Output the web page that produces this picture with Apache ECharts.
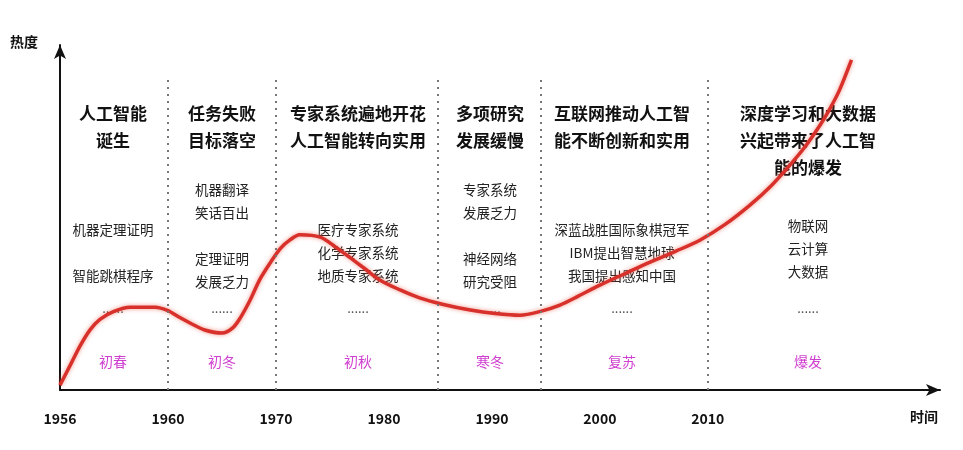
<!DOCTYPE html><html><head><meta charset="utf-8">
<script src="https://cdn.jsdelivr.net/npm/echarts@6/dist/echarts.min.js"></script>
<style>html,body{margin:0;background:#fff}#c{width:963px;height:450px}</style></head><body><div id="c"></div>
<script>
const yearLabels = ['1956','1960','1970','1980','1990','2000','2010'];
const curveX = [0,0.1,0.19,0.28,0.37,0.5,0.65,0.88,1.0,1.11,1.23,1.34,1.5,1.6,1.67,1.76,1.85,1.95,2.04,2.13,2.22,2.41,2.55,2.69,2.83,2.96,3.15,3.33,3.55,3.8,4.03,4.26,4.45,4.63,4.8,5.0,5.23,5.46,5.7,5.93,6.16,6.39,6.58,6.76,6.9,7.04,7.13,7.22,7.33];
const curveY = [1.4,7.5,13,17.5,20.5,22.8,24,24,23,21,19,17.4,16.5,18,20.9,26,32,37,41,43.5,45,44.3,41.5,38.3,35,31.9,29,26.7,24.8,23.2,22.2,21.7,22.8,24.6,27.2,30.4,33.7,37,40.2,43.5,48,53.6,59,65.2,70.5,76.8,81.5,87,95.7];
const dividers = [1,2,3.5,4.45,6];
const headers = ['人工智能\n诞生','任务失败\n目标落空','专家系统遍地开花\n人工智能转向实用','多项研究\n发展缓慢','互联网推动人工智\n能不断创新和实用','深度学习和大数据\n兴起带来了人工智\n能的爆发'];
const details = ['机器定理证明\n\n智能跳棋程序','机器翻译\n笑话百出\n\n定理证明\n发展乏力','医疗专家系统\n化学专家系统\n地质专家系统','专家系统\n发展乏力\n\n神经网络\n研究受阻','深蓝战胜国际象棋冠军\nIBM提出智慧地球\n我国提出感知中国','物联网\n云计算\n大数据'];
const eras = ['初春','初冬','初秋','寒冬','复苏','爆发'];
const colX = [113,222,358,490,622,808];
const detailY = [218,178,218,178,218,214];
const F = '"Noto Sans CJK SC", sans-serif';
const graphics = [];
colX.forEach((x,i)=>{
  graphics.push({type:'text',x:x,y:100,style:{text:headers[i],font:'bold 17px '+F,fill:'#111',align:'center',lineHeight:27}});
  graphics.push({type:'text',x:x,y:detailY[i],style:{text:details[i],font:'13.5px '+F,fill:'#222',align:'center',lineHeight:23}});
  graphics.push({type:'text',x:x,y:302,style:{text:'......',font:'13px '+F,fill:'#444',align:'center'}});
  graphics.push({type:'text',x:x,y:355,style:{text:eras[i],font:'14px '+F,fill:'#d040d0',align:'center'}});
});
graphics.push({type:'text',x:10,y:35,style:{text:'热度',font:'bold 14px '+F,fill:'#111'}});
graphics.push({type:'text',x:910,y:410,style:{text:'时间',font:'bold 14px '+F,fill:'#111'}});
const chart = echarts.init(document.getElementById('c'));
chart.setOption({
  animation:false,
  grid:{left:60,right:23,top:45,bottom:60},
  xAxis:{type:'value',min:0,max:8.15,interval:1,splitLine:{show:false},
    axisLine:{lineStyle:{color:'#111',width:2},symbol:['none','arrow'],symbolSize:[9,14]},
    axisTick:{show:false},
    axisLabel:{margin:22,color:'#111',fontWeight:'bold',fontSize:14,fontFamily:F,showMaxLabel:false,formatter:v=>yearLabels[v]??''}},
  yAxis:{type:'value',min:0,max:100,splitLine:{show:false},axisLabel:{show:false},axisTick:{show:false},
    axisLine:{show:true,lineStyle:{color:'#111',width:2},symbol:['none','arrow'],symbolSize:[9,14]}},
  graphic:graphics,
  series:[{type:'line',smooth:0.3,symbol:'none',data:curveX.map((x,i)=>[x,curveY[i]]),
    lineStyle:{color:'#d8302a',width:3.5,shadowColor:'rgba(230,80,60,0.6)',shadowBlur:4},
    markLine:{silent:true,symbol:'none',label:{show:false},lineStyle:{color:'#777',type:[2,5],width:2},
      data:dividers.map(d=>[{coord:[d,0]},{coord:[d,91]}])}}]
});
</script></body></html>
